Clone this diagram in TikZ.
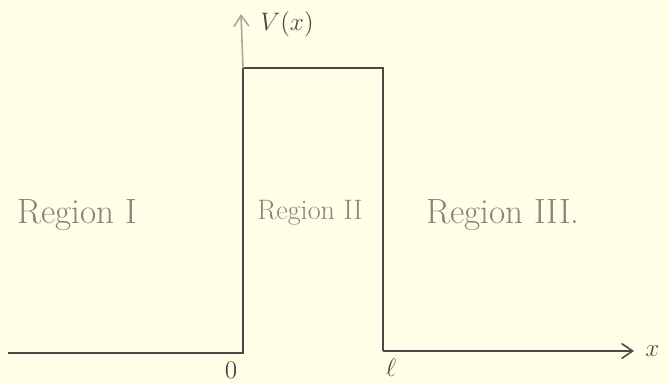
\documentclass[tikz,border=0pt]{standalone}
\usepackage{tikz}
\usetikzlibrary{arrows.meta,positioning}
\definecolor{paper}{HTML}{FFFEE6}
\definecolor{ink}{HTML}{4A4A44}
\definecolor{pencil}{HTML}{85857A}
\definecolor{faint}{HTML}{A8A89C}
\tikzset{
  wall/.style={ink,line width=1.1pt},
  axisarr/.style={-{Straight Barb[length=2.2mm,width=3mm]},line width=0.9pt},
  lbl/.style={ink,font=\Large},
  region/.style={pencil,font=\fontsize{20}{22}\selectfont}
}

\begin{document}
\begin{tikzpicture}[x=0.02cm,y=-0.02cm]
  \fill[paper] (0,0) rectangle (667,383);
  \useasboundingbox (0,0) rectangle (667,383);
  % barrier corners
  \coordinate (left) at (8,353);
  \coordinate (o) at (243,353);
  \coordinate (tl) at (243,68);
  \coordinate (tr) at (383,68);
  \coordinate (rb) at (383,351);
  \coordinate (xend) at (634,351);
  \coordinate (vtop) at (241,14);
  \draw[wall] (left) -- (o) -- (tl) -- (tr) -- (rb);
  \draw[wall,axisarr] (rb) -- (xend);
  \draw[faint,axisarr] (tl) -- (vtop);
  % labels
  \node[lbl] (vlbl) at (287,24) {$V(x)$};
  \node[lbl,right=3pt of xend] (xlbl) {$x$};
  \node[lbl] (zero) at (231,370) {$0$};
  \node[lbl] (ell) at (391,368) {$\ell$};
  \node[region] (r1) at (77,215) {Region I};
  \node[region,font=\fontsize{16}{18}\selectfont] (r2) at (310,213) {Region II};
  \node[region] (r3) at (503,215) {Region III.};
\end{tikzpicture}
\end{document}
